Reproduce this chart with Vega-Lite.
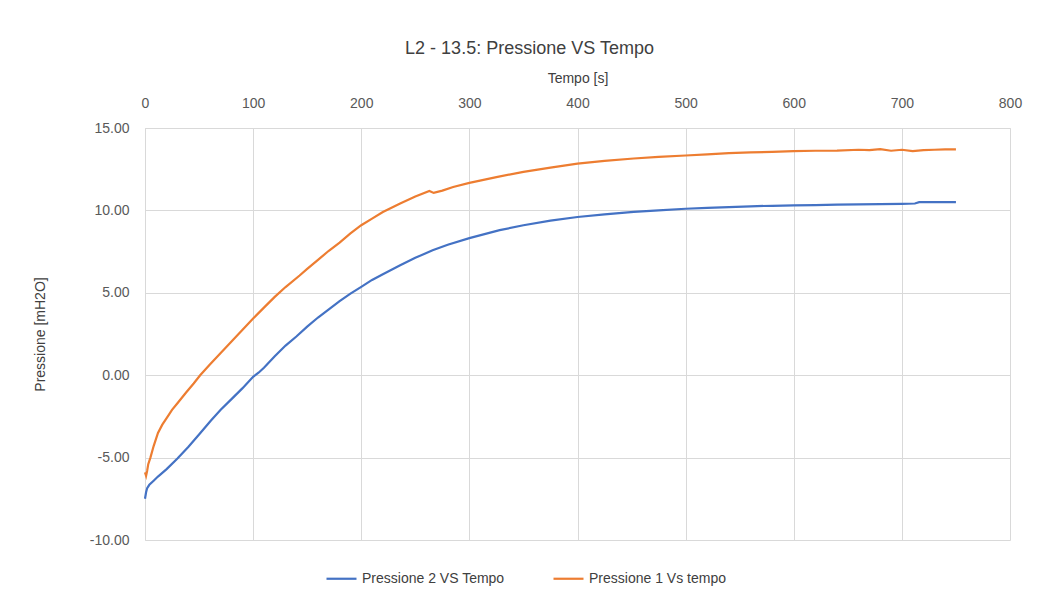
{
  "$schema": "https://vega.github.io/schema/vega-lite/v6.json",
  "width": 865,
  "height": 412,
  "autosize": {"type": "none"},
  "padding": {"left": 145, "top": 128, "right": 44, "bottom": 58},
  "background": "white",
  "title": {"text": "L2 - 13.5: Pressione VS Tempo", "anchor": "middle", "dx": -48, "offset": 13, "font": "Liberation Sans", "fontSize": 18, "fontWeight": "normal", "color": "#404040"},
  "config": {
    "view": {"stroke": null},
    "font": "Liberation Sans",
    "locale": {"number": {"decimal": ".", "thousands": ",", "grouping": [3], "currency": ["", ""], "minus": "-"}}
  },
  "data": {"values": [
    {"t":0,"p":-5.9,"s":"Pressione 1 Vs tempo"},
    {"t":1,"p":-6.1,"s":"Pressione 1 Vs tempo"},
    {"t":2,"p":-5.8,"s":"Pressione 1 Vs tempo"},
    {"t":3,"p":-5.4,"s":"Pressione 1 Vs tempo"},
    {"t":5,"p":-5.0,"s":"Pressione 1 Vs tempo"},
    {"t":8,"p":-4.3,"s":"Pressione 1 Vs tempo"},
    {"t":12,"p":-3.5,"s":"Pressione 1 Vs tempo"},
    {"t":16,"p":-3.0,"s":"Pressione 1 Vs tempo"},
    {"t":20,"p":-2.6,"s":"Pressione 1 Vs tempo"},
    {"t":25,"p":-2.1,"s":"Pressione 1 Vs tempo"},
    {"t":30,"p":-1.7,"s":"Pressione 1 Vs tempo"},
    {"t":38,"p":-1.05,"s":"Pressione 1 Vs tempo"},
    {"t":45,"p":-0.5,"s":"Pressione 1 Vs tempo"},
    {"t":51,"p":0.0,"s":"Pressione 1 Vs tempo"},
    {"t":60,"p":0.65,"s":"Pressione 1 Vs tempo"},
    {"t":70,"p":1.35,"s":"Pressione 1 Vs tempo"},
    {"t":80,"p":2.05,"s":"Pressione 1 Vs tempo"},
    {"t":90,"p":2.75,"s":"Pressione 1 Vs tempo"},
    {"t":100,"p":3.44,"s":"Pressione 1 Vs tempo"},
    {"t":110,"p":4.1,"s":"Pressione 1 Vs tempo"},
    {"t":120,"p":4.75,"s":"Pressione 1 Vs tempo"},
    {"t":130,"p":5.35,"s":"Pressione 1 Vs tempo"},
    {"t":143,"p":6.05,"s":"Pressione 1 Vs tempo"},
    {"t":150,"p":6.45,"s":"Pressione 1 Vs tempo"},
    {"t":160,"p":7.0,"s":"Pressione 1 Vs tempo"},
    {"t":170,"p":7.55,"s":"Pressione 1 Vs tempo"},
    {"t":180,"p":8.05,"s":"Pressione 1 Vs tempo"},
    {"t":190,"p":8.6,"s":"Pressione 1 Vs tempo"},
    {"t":200,"p":9.1,"s":"Pressione 1 Vs tempo"},
    {"t":210,"p":9.5,"s":"Pressione 1 Vs tempo"},
    {"t":220,"p":9.9,"s":"Pressione 1 Vs tempo"},
    {"t":236,"p":10.42,"s":"Pressione 1 Vs tempo"},
    {"t":250,"p":10.85,"s":"Pressione 1 Vs tempo"},
    {"t":263,"p":11.18,"s":"Pressione 1 Vs tempo"},
    {"t":267,"p":11.06,"s":"Pressione 1 Vs tempo"},
    {"t":275,"p":11.2,"s":"Pressione 1 Vs tempo"},
    {"t":285,"p":11.42,"s":"Pressione 1 Vs tempo"},
    {"t":300,"p":11.67,"s":"Pressione 1 Vs tempo"},
    {"t":325,"p":12.02,"s":"Pressione 1 Vs tempo"},
    {"t":350,"p":12.34,"s":"Pressione 1 Vs tempo"},
    {"t":375,"p":12.6,"s":"Pressione 1 Vs tempo"},
    {"t":400,"p":12.84,"s":"Pressione 1 Vs tempo"},
    {"t":425,"p":13.0,"s":"Pressione 1 Vs tempo"},
    {"t":452,"p":13.15,"s":"Pressione 1 Vs tempo"},
    {"t":475,"p":13.25,"s":"Pressione 1 Vs tempo"},
    {"t":500,"p":13.33,"s":"Pressione 1 Vs tempo"},
    {"t":520,"p":13.4,"s":"Pressione 1 Vs tempo"},
    {"t":540,"p":13.47,"s":"Pressione 1 Vs tempo"},
    {"t":560,"p":13.52,"s":"Pressione 1 Vs tempo"},
    {"t":580,"p":13.55,"s":"Pressione 1 Vs tempo"},
    {"t":600,"p":13.6,"s":"Pressione 1 Vs tempo"},
    {"t":620,"p":13.62,"s":"Pressione 1 Vs tempo"},
    {"t":640,"p":13.63,"s":"Pressione 1 Vs tempo"},
    {"t":660,"p":13.68,"s":"Pressione 1 Vs tempo"},
    {"t":670,"p":13.66,"s":"Pressione 1 Vs tempo"},
    {"t":680,"p":13.72,"s":"Pressione 1 Vs tempo"},
    {"t":690,"p":13.62,"s":"Pressione 1 Vs tempo"},
    {"t":700,"p":13.68,"s":"Pressione 1 Vs tempo"},
    {"t":710,"p":13.6,"s":"Pressione 1 Vs tempo"},
    {"t":720,"p":13.66,"s":"Pressione 1 Vs tempo"},
    {"t":730,"p":13.68,"s":"Pressione 1 Vs tempo"},
    {"t":740,"p":13.7,"s":"Pressione 1 Vs tempo"},
    {"t":750,"p":13.7,"s":"Pressione 1 Vs tempo"},
    {"t":0,"p":-7.5,"s":"Pressione 2 VS Tempo"},
    {"t":1,"p":-7.1,"s":"Pressione 2 VS Tempo"},
    {"t":2,"p":-6.85,"s":"Pressione 2 VS Tempo"},
    {"t":4,"p":-6.65,"s":"Pressione 2 VS Tempo"},
    {"t":8,"p":-6.4,"s":"Pressione 2 VS Tempo"},
    {"t":12,"p":-6.15,"s":"Pressione 2 VS Tempo"},
    {"t":20,"p":-5.7,"s":"Pressione 2 VS Tempo"},
    {"t":30,"p":-5.05,"s":"Pressione 2 VS Tempo"},
    {"t":40,"p":-4.35,"s":"Pressione 2 VS Tempo"},
    {"t":50,"p":-3.6,"s":"Pressione 2 VS Tempo"},
    {"t":61,"p":-2.75,"s":"Pressione 2 VS Tempo"},
    {"t":70,"p":-2.1,"s":"Pressione 2 VS Tempo"},
    {"t":80,"p":-1.45,"s":"Pressione 2 VS Tempo"},
    {"t":90,"p":-0.8,"s":"Pressione 2 VS Tempo"},
    {"t":100,"p":-0.1,"s":"Pressione 2 VS Tempo"},
    {"t":105,"p":0.15,"s":"Pressione 2 VS Tempo"},
    {"t":110,"p":0.45,"s":"Pressione 2 VS Tempo"},
    {"t":120,"p":1.15,"s":"Pressione 2 VS Tempo"},
    {"t":130,"p":1.8,"s":"Pressione 2 VS Tempo"},
    {"t":140,"p":2.35,"s":"Pressione 2 VS Tempo"},
    {"t":150,"p":2.95,"s":"Pressione 2 VS Tempo"},
    {"t":160,"p":3.5,"s":"Pressione 2 VS Tempo"},
    {"t":170,"p":4.0,"s":"Pressione 2 VS Tempo"},
    {"t":180,"p":4.5,"s":"Pressione 2 VS Tempo"},
    {"t":190,"p":4.95,"s":"Pressione 2 VS Tempo"},
    {"t":200,"p":5.36,"s":"Pressione 2 VS Tempo"},
    {"t":210,"p":5.78,"s":"Pressione 2 VS Tempo"},
    {"t":220,"p":6.13,"s":"Pressione 2 VS Tempo"},
    {"t":236,"p":6.67,"s":"Pressione 2 VS Tempo"},
    {"t":250,"p":7.12,"s":"Pressione 2 VS Tempo"},
    {"t":266,"p":7.58,"s":"Pressione 2 VS Tempo"},
    {"t":280,"p":7.92,"s":"Pressione 2 VS Tempo"},
    {"t":300,"p":8.32,"s":"Pressione 2 VS Tempo"},
    {"t":328,"p":8.8,"s":"Pressione 2 VS Tempo"},
    {"t":350,"p":9.1,"s":"Pressione 2 VS Tempo"},
    {"t":375,"p":9.38,"s":"Pressione 2 VS Tempo"},
    {"t":400,"p":9.6,"s":"Pressione 2 VS Tempo"},
    {"t":425,"p":9.76,"s":"Pressione 2 VS Tempo"},
    {"t":452,"p":9.91,"s":"Pressione 2 VS Tempo"},
    {"t":475,"p":10.0,"s":"Pressione 2 VS Tempo"},
    {"t":500,"p":10.1,"s":"Pressione 2 VS Tempo"},
    {"t":520,"p":10.15,"s":"Pressione 2 VS Tempo"},
    {"t":540,"p":10.2,"s":"Pressione 2 VS Tempo"},
    {"t":560,"p":10.25,"s":"Pressione 2 VS Tempo"},
    {"t":580,"p":10.28,"s":"Pressione 2 VS Tempo"},
    {"t":600,"p":10.3,"s":"Pressione 2 VS Tempo"},
    {"t":620,"p":10.32,"s":"Pressione 2 VS Tempo"},
    {"t":640,"p":10.35,"s":"Pressione 2 VS Tempo"},
    {"t":660,"p":10.37,"s":"Pressione 2 VS Tempo"},
    {"t":680,"p":10.38,"s":"Pressione 2 VS Tempo"},
    {"t":700,"p":10.4,"s":"Pressione 2 VS Tempo"},
    {"t":712,"p":10.42,"s":"Pressione 2 VS Tempo"},
    {"t":716,"p":10.5,"s":"Pressione 2 VS Tempo"},
    {"t":750,"p":10.5,"s":"Pressione 2 VS Tempo"}
  ]},
  "mark": {"type": "line", "strokeWidth": 2.2, "interpolate": "linear"},
  "encoding": {
    "x": {
      "field": "t", "type": "quantitative",
      "scale": {"domain": [0, 800], "nice": false, "zero": false},
      "axis": {
        "orient": "top", "title": "Tempo [s]", "values": [0,100,200,300,400,500,600,700,800],
        "grid": true, "gridColor": "#d9d9d9", "gridWidth": 1,
        "domain": true, "domainColor": "#d9d9d9", "ticks": false, "labelFlush": false,
        "labelFont": "Liberation Sans", "labelFontSize": 14, "labelColor": "#595959", "labelPadding": 18,
        "titleFont": "Liberation Sans", "titleFontSize": 14, "titleFontWeight": "normal", "titleColor": "#404040", "titlePadding": 11
      }
    },
    "y": {
      "field": "p", "type": "quantitative",
      "scale": {"domain": [-10, 15], "nice": false, "zero": false},
      "axis": {
        "title": "Pressione [mH2O]", "values": [-10,-5,0,5,10,15], "format": ".2f",
        "grid": true, "gridColor": "#d9d9d9", "gridWidth": 1,
        "domain": true, "domainColor": "#d9d9d9", "ticks": false,
        "labelFont": "Liberation Sans", "labelFontSize": 14, "labelColor": "#595959", "labelPadding": 16,
        "titleFont": "Liberation Sans", "titleFontSize": 14, "titleFontWeight": "normal", "titleColor": "#404040", "titlePadding": 42
      }
    },
    "color": {
      "field": "s", "type": "nominal",
      "scale": {"domain": ["Pressione 2 VS Tempo", "Pressione 1 Vs tempo"], "range": ["#4472C4", "#ED7D31"]},
      "legend": {
        "title": null, "orient": "none", "direction": "horizontal", "legendX": 180, "legendY": 434,
        "symbolType": "stroke", "symbolSize": 900, "symbolStrokeWidth": 2.2,
        "labelFont": "Liberation Sans", "labelFontSize": 14, "labelColor": "#404040", "labelOffset": 4,
        "columnPadding": 44
      }
    }
  }
}
